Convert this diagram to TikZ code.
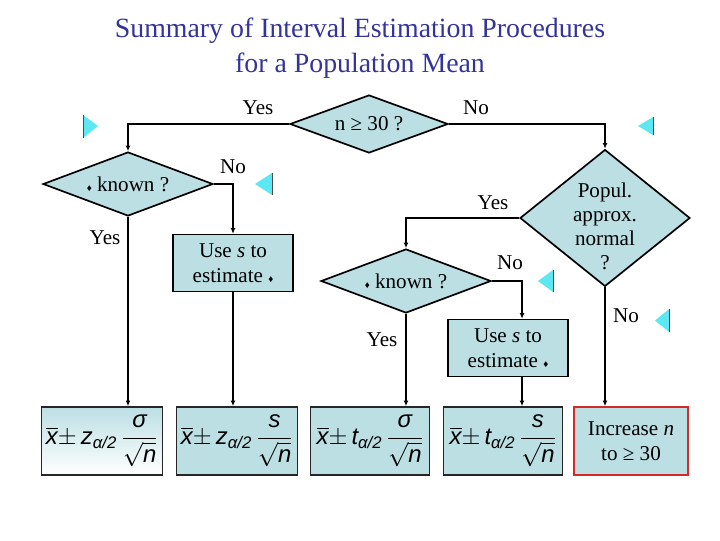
\documentclass[tikz,border=0pt]{standalone}
\usepackage{amsmath}
\usepackage{fontspec}
\setmainfont{Liberation Serif}
\setsansfont{Liberation Sans}
\usepackage{xcolor}
\usepackage{tikz}
\usetikzlibrary{positioning, arrows.meta, shapes.geometric, calc}
\definecolor{ftteal}{HTML}{BCDFE4}
\definecolor{ftnavy}{HTML}{333399}
\definecolor{ftcyan}{HTML}{5CE8F2}
\definecolor{ftred}{HTML}{D42A2A}
\newcommand{\fv}[1]{\text{\sffamily\itshape #1}}
\newcommand{\sig}{{\scriptsize ♦}}
\newcommand{\ci}[2]{$\overline{\fv{x}}{\pm}\,\fv{#1}_{\fv{α/2}}\,\dfrac{\fv{#2}}{\sqrt{\fv{n}}}$}

\begin{document}
\begin{tikzpicture}[
  x=0.025cm, y=-0.025cm,
  flow/.style={line width=1.2pt, -{Latex[length=4pt,width=3.5pt]}},
  decide/.style={
    diamond, draw=black, line width=1.2pt, fill=ftteal,
    inner sep=0pt, aspect=2.6, font=\fontsize{15}{17}\selectfont, align=center
  },
  usebox/.style={
    rectangle, draw=black, line width=1.2pt, fill=ftteal,
    minimum width=3cm, minimum height=1.42cm, inner sep=0pt,
    font=\fontsize{15}{18}\selectfont, align=center
  },
  formbox/.style={
    rectangle, draw=black!85, line width=1.2pt, fill=ftteal,
    minimum width=#1, minimum height=1.7cm, inner sep=0pt,
    font=\fontsize{17}{20}\selectfont
  },
  lbl/.style={font=\fontsize{15}{17}\selectfont},
]
\useasboundingbox (0,0) rectangle (720,540);

% title
\node[font=\fontsize{19.8}{24.5}\selectfont, text=ftnavy, align=center] (title) at (360,48)
  {Summary of Interval Estimation Procedures\\for a Population Mean};

% decisions
\node[decide, minimum width=3.95cm, minimum height=1.45cm] (nbig) at (369,124) {n ≥ 30 ?};
\node[decide, minimum width=4.25cm, minimum height=1.6cm] (knownA) at (128,184) {\sig{} known ?};
\node[decide, minimum width=4.25cm, minimum height=1.6cm] (knownB) at (406,281) {\sig{} known ?};
\node[decide, aspect=1.24, minimum width=4.25cm, minimum height=3.42cm] (popul) at (605,218) {};
\node[font=\fontsize{15}{17}\selectfont, align=center] (popultxt) at (605,226)
  {Popul.\\approx.\\normal\\?};

% use s boxes
\node[usebox] (useA) at (233,263) {Use \textit{s} to\\estimate \sig};
\node[usebox] (useB) at (508,348) {Use \textit{s} to\\estimate \sig};

% results
\node[formbox=3.02cm, shading=axis, top color=ftteal, bottom color=white] (resA) at (102,441) {\ci{z}{σ}};
\node[formbox=3.02cm] (resB) at (237,441) {\ci{z}{s}};
\node[formbox=2.98cm] (resC) at (370,441) {\ci{t}{σ}};
\node[formbox=2.98cm] (resD) at (503,441) {\ci{t}{s}};
\node[usebox, draw=ftred, minimum width=2.85cm, minimum height=1.7cm] (resE) at (631,441)
  {Increase \textit{n}\\to ≥ 30};

% connectors
\draw[flow] (nbig.west) -| (knownA.north);
\draw[flow] (nbig.east) -| (popul.north);
\draw[flow] (knownA.east) -| (useA.north);
\draw[flow] (knownA.south) -- (knownA.south |- resA.north);
\draw[flow] (useA.south) -- (useA.south |- resB.north);
\draw[flow] (popul.west) -| (knownB.north);
\draw[flow] (knownB.east) -| ([xshift=0.35cm]useB.north);
\draw[flow] (knownB.south) -- (knownB.south |- resC.north);
\draw[flow] ([xshift=0.35cm]useB.south) -- ([xshift=0.35cm]useB.south |- resD.north);
\draw[flow] (popul.south) -- (popul.south |- resE.north);

% labels
\node[lbl] (yesA) at (258,108) {Yes};
\node[lbl] (noA) at (476,108) {No};
\node[lbl] (noB) at (233,167) {No};
\node[lbl] (yesB) at (105,238) {Yes};
\node[lbl] (yesC) at (493,203) {Yes};
\node[lbl] (noC) at (510,263) {No};
\node[lbl] (yesD) at (382,340) {Yes};
\node[lbl] (noD) at (626,316) {No};

% buttons
\fill[ftcyan] (83,115) -- (98,126) -- (83,138) -- cycle;
\draw[black!70, line width=0.6pt] (83,115) -- (83,138);
\foreach \xa/\ya/\xb/\yb in {255/173/272/195, 638/117/653/135, 538/270/553/292, 655/309/669/332} {
  \fill[ftcyan] (\xb,\ya) -- (\xa,{(\ya+\yb)/2}) -- (\xb,\yb) -- cycle;
  \draw[black!70, line width=0.6pt] (\xb,\ya) -- (\xb,\yb);
}
\end{tikzpicture}
\end{document}
